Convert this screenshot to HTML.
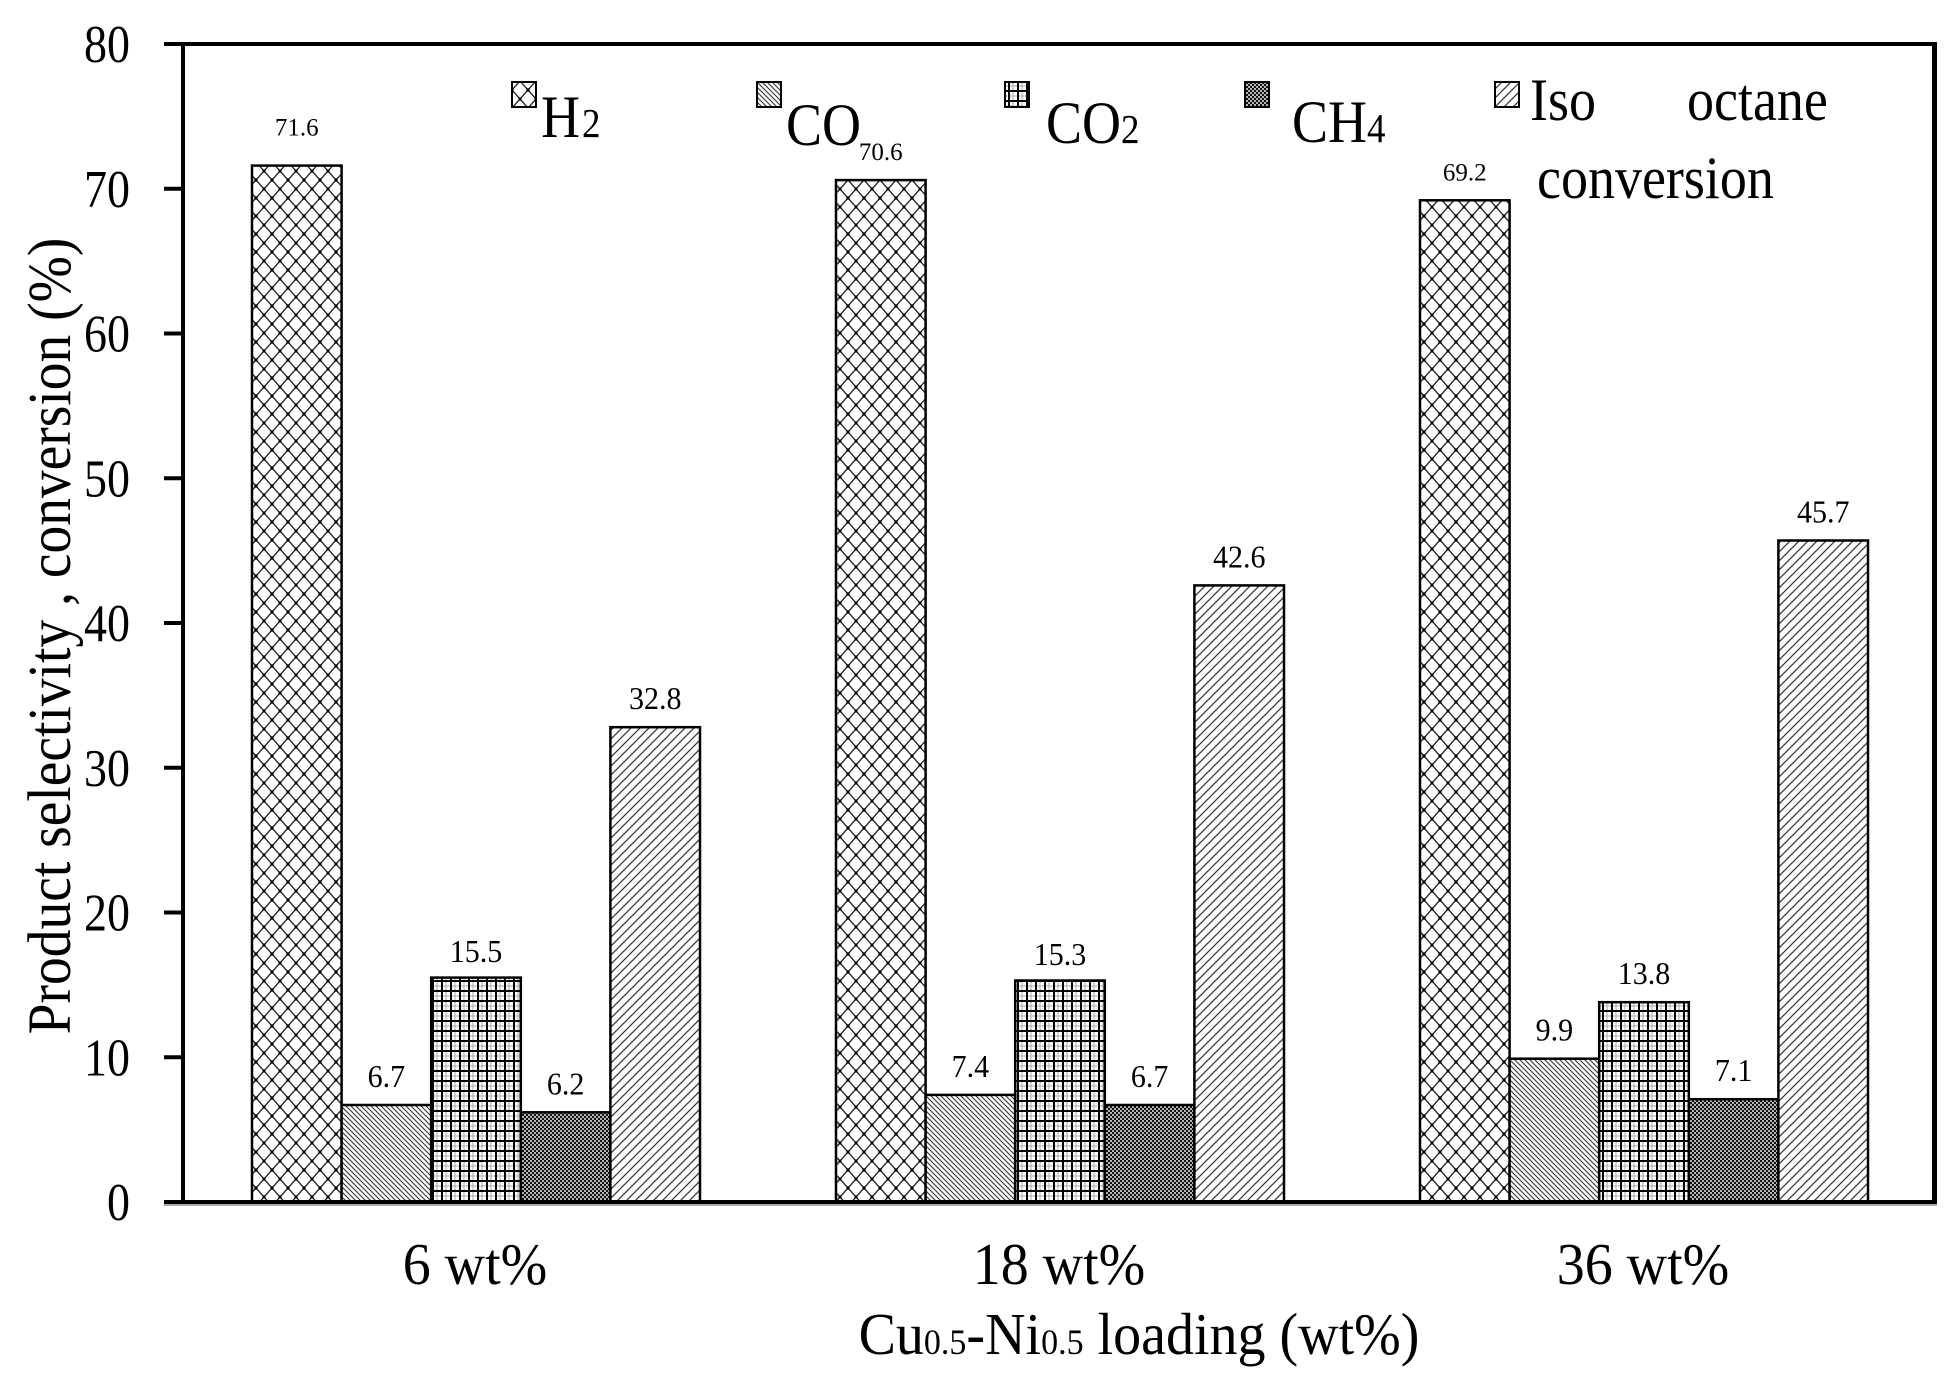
<!DOCTYPE html>
<html>
<head>
<meta charset="utf-8">
<style>
html,body{margin:0;padding:0;background:#fff;}
svg{display:block;}
text{font-family:"Liberation Serif","Times New Roman",serif;fill:#000;}
</style>
</head>
<body>
<svg width="1957" height="1386" viewBox="0 0 1957 1386" xmlns="http://www.w3.org/2000/svg">
<defs>
  <pattern id="pH2" width="16" height="18" patternUnits="userSpaceOnUse">
    <rect width="16" height="18" fill="#fff"/>
    <path d="M0,0 L16,18 M16,0 L0,18" stroke="#222" stroke-width="1.3"/>
    <rect x="6.5" y="7.5" width="3" height="3" fill="#000"/>
    <rect x="0" y="0" width="1.6" height="1.6" fill="#000"/>
    <rect x="14.4" y="0" width="1.6" height="1.6" fill="#000"/>
    <rect x="0" y="16.4" width="1.6" height="1.6" fill="#000"/>
    <rect x="14.4" y="16.4" width="1.6" height="1.6" fill="#000"/>
  </pattern>
  <pattern id="pCO" width="5" height="5" patternUnits="userSpaceOnUse">
    <rect width="5" height="5" fill="#fff"/>
    <path d="M0,0 L5,5 M-1,4 L1,6 M4,-1 L6,1" stroke="#333" stroke-width="1.1"/>
  </pattern>
  <pattern id="pCO2" width="9" height="10" patternUnits="userSpaceOnUse">
    <rect width="9" height="10" fill="#fff"/>
    <rect x="4.5" y="0" width="1" height="10" fill="#aaa"/>
    <rect x="0" y="5.5" width="9" height="1" fill="#aaa"/>
    <rect x="0" y="0" width="2" height="10" fill="#000"/>
    <rect x="0" y="0" width="9" height="2" fill="#000"/>
  </pattern>
  <pattern id="pCH4" width="4" height="4" patternUnits="userSpaceOnUse">
    <rect width="4" height="4" fill="#b5b5b5"/>
    <rect x="0" y="0" width="2" height="2" fill="#111"/>
    <rect x="2" y="2" width="2" height="2" fill="#111"/>
  </pattern>
  <pattern id="pISO" width="9" height="9" patternUnits="userSpaceOnUse">
    <rect width="9" height="9" fill="#fff"/>
    <path d="M0,9 L9,0 M-1,1 L1,-1 M8,10 L10,8" stroke="#333" stroke-width="1.2"/>
  </pattern>
</defs>

<rect width="1957" height="1386" fill="#fff"/>

<!-- Bars -->
<g stroke="#000" stroke-width="2.5">
  <rect x="252" y="165.6" width="89.6" height="1036.4" fill="url(#pH2)"/>
  <rect x="341.6" y="1105" width="89.6" height="97" fill="url(#pCO)"/>
  <rect x="431.2" y="977.6" width="89.6" height="224.4" fill="url(#pCO2)"/>
  <rect x="520.8" y="1112.3" width="89.6" height="89.7" fill="url(#pCH4)"/>
  <rect x="610.4" y="727.2" width="89.6" height="474.8" fill="url(#pISO)"/>

  <rect x="836" y="180.1" width="89.6" height="1021.9" fill="url(#pH2)"/>
  <rect x="925.6" y="1094.9" width="89.6" height="107.1" fill="url(#pCO)"/>
  <rect x="1015.2" y="980.5" width="89.6" height="221.5" fill="url(#pCO2)"/>
  <rect x="1104.8" y="1105" width="89.6" height="97" fill="url(#pCH4)"/>
  <rect x="1194.4" y="585.4" width="89.6" height="616.6" fill="url(#pISO)"/>

  <rect x="1420" y="200.3" width="89.6" height="1001.7" fill="url(#pH2)"/>
  <rect x="1509.6" y="1058.7" width="89.6" height="143.3" fill="url(#pCO)"/>
  <rect x="1599.2" y="1002.2" width="89.6" height="199.8" fill="url(#pCO2)"/>
  <rect x="1688.8" y="1099.2" width="89.6" height="102.8" fill="url(#pCH4)"/>
  <rect x="1778.4" y="540.5" width="89.6" height="661.5" fill="url(#pISO)"/>
</g>

<!-- Axes / frame -->
<rect x="164" y="42" width="1773" height="4" fill="#000"/>
<rect x="1932" y="42" width="5" height="1162" fill="#000"/>
<rect x="181" y="42" width="4" height="1162" fill="#000"/>
<rect x="164" y="1200" width="1773" height="4" fill="#000"/>
<rect x="164" y="1204" width="1773" height="2" fill="#aaa"/>
<g fill="#000">
  <rect x="164" y="1055.25" width="19" height="4"/>
  <rect x="164" y="910.5" width="19" height="4"/>
  <rect x="164" y="765.75" width="19" height="4"/>
  <rect x="164" y="621" width="19" height="4"/>
  <rect x="164" y="476.25" width="19" height="4"/>
  <rect x="164" y="331.5" width="19" height="4"/>
  <rect x="164" y="186.75" width="19" height="4"/>
</g>

<!-- Y tick labels -->
<g font-size="46" text-anchor="end">
  <text transform="translate(130,1220) scale(1,1.15)">0</text>
  <text transform="translate(130,1075.25) scale(1,1.15)">10</text>
  <text transform="translate(130,930.5) scale(1,1.15)">20</text>
  <text transform="translate(130,785.75) scale(1,1.15)">30</text>
  <text transform="translate(130,641) scale(1,1.15)">40</text>
  <text transform="translate(130,496.25) scale(1,1.15)">50</text>
  <text transform="translate(130,351.5) scale(1,1.15)">60</text>
  <text transform="translate(130,206.75) scale(1,1.15)">70</text>
  <text transform="translate(130,62) scale(1,1.15)">80</text>
</g>

<!-- Y axis title -->
<text font-size="55.5" text-anchor="middle" transform="translate(70,636) rotate(-90) scale(1,1.1)">Product selectivity , conversion (%)</text>

<!-- X category labels -->
<g font-size="56" text-anchor="middle">
  <text transform="translate(475,1284) scale(1,1.05)">6 wt%</text>
  <text transform="translate(1059,1284) scale(1,1.05)">18 wt%</text>
  <text transform="translate(1643,1284) scale(1,1.05)">36 wt%</text>
</g>

<!-- X axis title -->
<text font-size="56" text-anchor="middle" transform="translate(1139,1354) scale(1,1.05)">Cu<tspan font-size="34">0.5</tspan>-Ni<tspan font-size="34">0.5</tspan> loading (wt%)</text>

<!-- Value labels -->
<g text-anchor="middle">
  <g font-size="25">
    <text x="296.8" y="135.6">71.6</text>
    <text x="880.8" y="160.1">70.6</text>
    <text x="1464.8" y="180.3">69.2</text>
  </g>
  <g font-size="30">
    <text transform="translate(386.4,1087) scale(1,1.05)">6.7</text>
    <text transform="translate(476,962) scale(1,1.05)">15.5</text>
    <text transform="translate(565.6,1094.3) scale(1,1.05)">6.2</text>
    <text transform="translate(655.2,709.2) scale(1,1.05)">32.8</text>

    <text transform="translate(970.4,1076.9) scale(1,1.05)">7.4</text>
    <text transform="translate(1060,965) scale(1,1.05)">15.3</text>
    <text transform="translate(1149.6,1087) scale(1,1.05)">6.7</text>
    <text transform="translate(1239.2,567.4) scale(1,1.05)">42.6</text>

    <text transform="translate(1554.4,1040.7) scale(1,1.05)">9.9</text>
    <text transform="translate(1644,984.2) scale(1,1.05)">13.8</text>
    <text transform="translate(1733.6,1081.2) scale(1,1.05)">7.1</text>
    <text transform="translate(1823.2,522.5) scale(1,1.05)">45.7</text>
  </g>
</g>

<!-- Legend -->
<g stroke="#000" stroke-width="2">
  <rect x="512" y="82" width="24" height="25" fill="url(#pH2)"/>
  <rect x="757" y="82" width="24" height="25" fill="url(#pCO)"/>
  <rect x="1005" y="82" width="24" height="25" fill="url(#pCO2)"/>
  <rect x="1245" y="82" width="24" height="25" fill="url(#pCH4)"/>
  <rect x="1495" y="82" width="24" height="25" fill="url(#pISO)"/>
</g>
<g font-size="54">
  <text transform="translate(541,137) scale(1,1.12)">H<tspan font-size="37" dx="2">2</tspan></text>
  <text transform="translate(786,145) scale(1,1.12)">CO</text>
  <text transform="translate(1046,143) scale(1,1.12)">CO<tspan font-size="37">2</tspan></text>
  <text transform="translate(1292,142) scale(1,1.12)">CH<tspan font-size="37">4</tspan></text>
  <text transform="translate(1530,120) scale(1,1.12)">Iso</text>
  <text transform="translate(1687,120) scale(1,1.12)">octane</text>
  <text transform="translate(1537,198) scale(1,1.12)">conversion</text>
</g>
</svg>
</body>
</html>
